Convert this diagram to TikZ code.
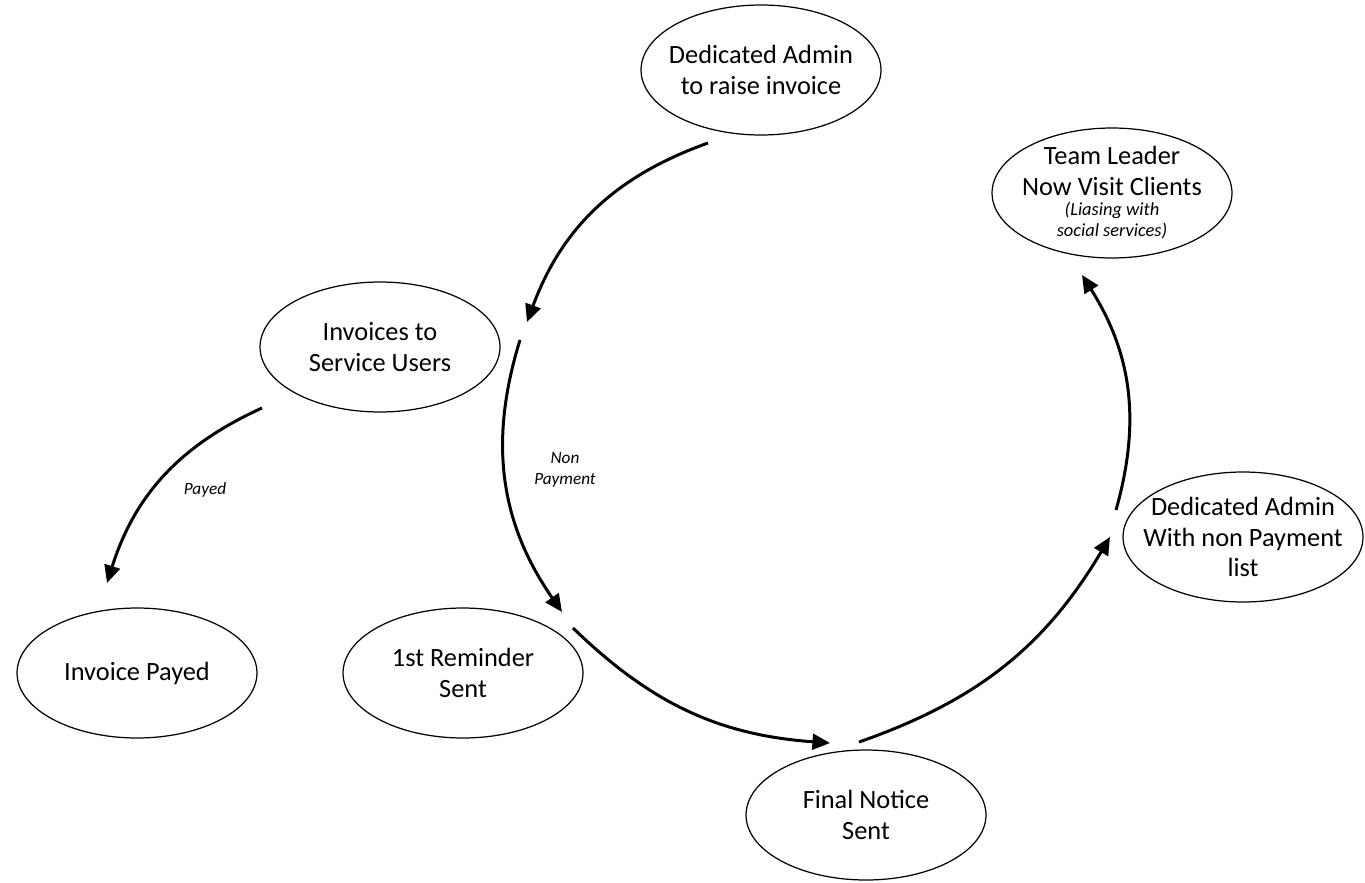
\documentclass[tikz,border=0pt]{standalone}
\usepackage{fontspec}
\setmainfont{Carlito}
\usetikzlibrary{arrows.meta, shapes.geometric}

\newcommand{\aside}[1]{{\fontsize{10.5}{12}\selectfont\itshape #1}}

\begin{document}
\begin{tikzpicture}[x=0.02cm, y=-0.02cm,
        stage/.style={draw, ellipse, line width=0.7pt,
            minimum width=4.8cm, minimum height=2.6cm,
            inner xsep=-9pt, inner ysep=-4pt, align=center,
            font=\fontsize{15}{17.6}\selectfont},
        flow/.style={-{Triangle[length=10pt,width=9pt]}, line width=1.7pt},
        note/.style={font=\fontsize{9.8}{12}\selectfont\itshape, align=center}]
            \useasboundingbox (0,0) rectangle (1365,882);

            \node[stage] (admin) at (761,70) {Dedicated Admin\\to raise invoice};
            \node[stage] (leader) at (1112,193) {Team Leader\\Now Visit Clients\\[-6.2pt]
                \aside{(Liasing with}\\[-5.6pt]\aside{social services)}};
            \node[stage] (invoices) at (380,347) {Invoices to\\Service Users};
            \node[stage] (listadmin) at (1243,537) {Dedicated Admin\\With non Payment\\list};
            \node[stage] (payed) at (137,673) {Invoice Payed};
            \node[stage] (reminder) at (463,673) {1st Reminder\\Sent};
            \node[stage] (final) at (866,815) {Final Notice\\Sent};

            \node[note] (nonpay) at (565,470) {Non\\Payment};
            \node[note] (paidlbl) at (205,490) {Payed};

            \foreach \c/\x/\y in {
                s1/708/143, e1/527/322, s2/520/340, e2/562/612,
                s3/573/628, e3/830/743, s4/859/742, e4/1110/537,
                s5/1116/510, e5/1082/275, s6/262/408, e6/107/583%
            } {
                \coordinate (\c) at (\x,\y);
            }

            \foreach \a/\b/\k in {
                s1/e1/25, s2/e2/26, s3/e3/20,
                s4/e4/20, s5/e5/24, s6/e6/24%
            } {
                \draw[flow] (\a) to[bend right=\k] (\b);
            }
        \end{tikzpicture}
\end{document}
